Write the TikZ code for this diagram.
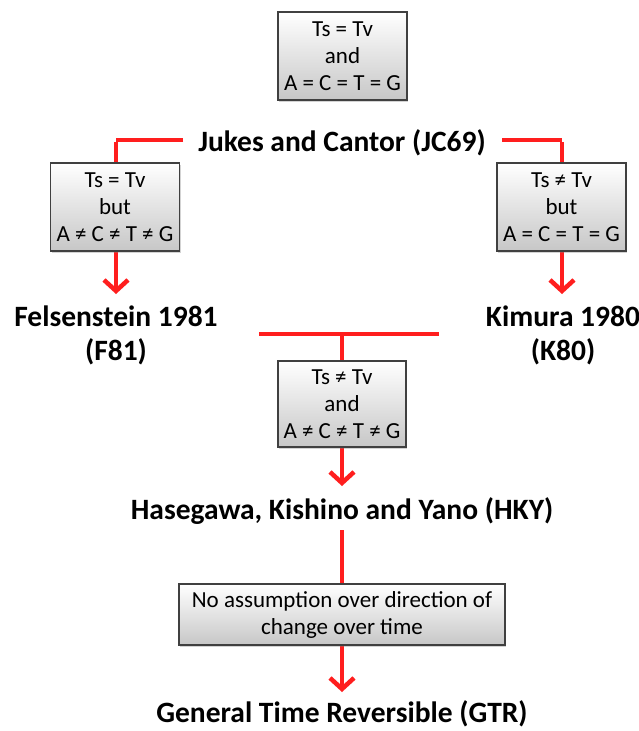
\documentclass[tikz,border=0pt]{standalone}
\usepackage{fontspec}
\setmainfont{Carlito}
\usetikzlibrary{arrows.meta,shadows}
\definecolor{lred}{RGB}{255,30,30}
\begin{document}
\begin{tikzpicture}[x=1pt,y=-1pt,
  cbox/.style={draw=black!75,line width=1.2pt,top color=white,bottom color=black!22,
    minimum width=#1,inner sep=0pt,align=center,font=\fontsize{23}{27}\selectfont,
    drop shadow={shadow xshift=1pt,shadow yshift=-1.5pt,opacity=0.35}},
  lbl/.style={font=\fontsize{29.5}{34}\selectfont\bfseries,align=center,inner sep=0pt},
  redline/.style={draw=lred,line width=4.5pt},
  redarrow/.style={draw=lred,line width=4.5pt,-{Straight Barb[length=11pt,width=24pt,line width=4.5pt]}}]
\useasboundingbox (0,0) rectangle (639,731);
\node[lbl] (jc) at (342,143) {Jukes and Cantor (JC69)};
\node[lbl] (f81) at (116,335) {Felsenstein 1981\\(F81)};
\node[lbl] (k80) at (563,335) {Kimura 1980\\(K80)};
\node[lbl] (hky) at (342,511) {Hasegawa, Kishino and Yano (HKY)};
\node[lbl] (gtr) at (342,714) {General Time Reversible (GTR)};
\coordinate (jl) at (183,140);
\coordinate (jr) at (502,140);
\coordinate (lt) at (116,140);
\coordinate (rt) at (562,140);
\coordinate (ftip) at (116,294);
\coordinate (ktip) at (562,294);
\coordinate (ml) at (259,334);
\coordinate (mr) at (439,334);
\coordinate (mc) at (342,334);
\coordinate (htip) at (342,486);
\coordinate (hs) at (342,530);
\coordinate (gtip) at (342,692);
% JC69 -> F81
\draw[redline] (jl) -- (lt);
\draw[redarrow] ([yshift=-2.25pt]lt) -- (ftip);
% JC69 -> K80
\draw[redline] (jr) -- (rt);
\draw[redarrow] ([yshift=-2.25pt]rt) -- (ktip);
% F81,K80 -> HKY
\draw[redline] (ml) -- (mr);
\draw[redarrow] (mc) -- (htip);
% HKY -> GTR
\draw[redarrow] (hs) -- (gtip);
% boxes
\node[cbox=129pt,minimum height=88pt] (b1) at (342.5,56) {Ts = Tv\\and\\A = C = T = G};
\node[cbox=129pt,minimum height=88pt] (b2) at (115,207) {Ts = Tv\\but\\A ≠ C ≠ T ≠ G};
\node[cbox=129pt,minimum height=88pt] (b3) at (561.5,207) {Ts ≠ Tv\\but\\A = C = T = G};
\node[cbox=128pt,minimum height=86pt] (b4) at (342,404) {Ts ≠ Tv\\and\\A ≠ C ≠ T ≠ G};
\node[cbox=326pt,minimum height=61pt] (b5) at (342,614.5) {No assumption over direction of\\change over time};
\end{tikzpicture}
\end{document}
